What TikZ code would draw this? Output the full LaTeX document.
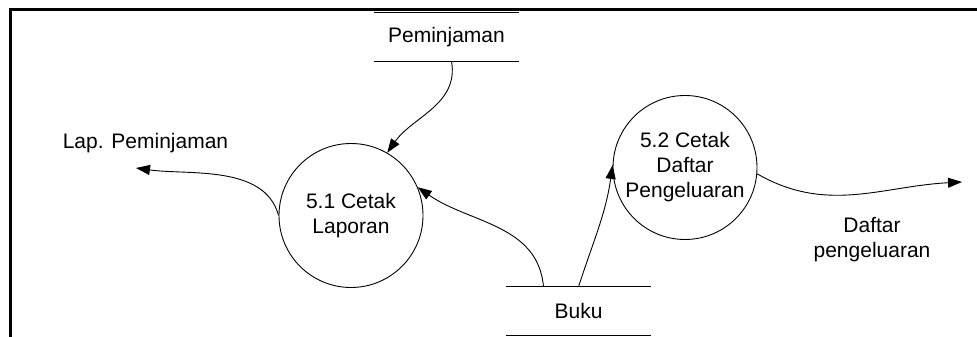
\documentclass[tikz,border=0pt]{standalone}
\usepackage{fontspec}
\setmainfont{Liberation Sans}
\usepackage{tikz}
\usetikzlibrary{arrows.meta}
\tikzstyle{process} = [draw, circle, line width=0.9pt, minimum size=144pt,
    inner sep=0, align=center, font=\fontsize{21}{25}\selectfont]
\tikzstyle{store} = [minimum width=145pt, minimum height=48pt, inner sep=0,
    font=\fontsize{21}{25}\selectfont]
\tikzstyle{label} = [align=center, font=\fontsize{21}{25}\selectfont]
\tikzstyle{flow} = [line width=0.9pt, -{Triangle[length=14pt,width=10pt]}]

\begin{document}
\begin{tikzpicture}[x=1pt, y=1pt]
    \useasboundingbox (0,0) rectangle (977,337);
    \draw[line width=3pt] (10.3,0) -- (10.3,327) -- (977,327);

    \node [store] (pem) at (446.5,300) {Peminjaman};
    \node [store] (buku) at (578.5,26) {Buku};
    \draw[line width=1.2pt] (pem.north west) -- (pem.north east)
        (pem.south west) -- (pem.south east);
    \draw[line width=1.2pt] (buku.north west) -- (buku.north east)
        (buku.south west) -- (buku.south east);

    \node [process] (cetak) at (351,121.5) {5.1 Cetak\\Laporan};
    \node [process] (daftar) at (685,169.5) {5.2 Cetak\\Daftar\\Pengeluaran};

    \node [label] (lap) at (145.5,194) {Lap. Peminjaman};
    \coordinate (laptip) at (136,169);
    \node [label] (pengel) at (872,97) {Daftar\\pengeluaran};
    \coordinate (pengtip) at (962,155);

    \draw[flow] ([xshift=5pt]pem.south) to[out=-80, in=55] (cetak.60);
    \draw[flow] ([xshift=-35pt]buku.north) to[out=95, in=-35] (cetak.23);
    \draw[flow] (buku.north) to[out=72, in=-98] (daftar.178);
    \draw[flow] (cetak.180) to[out=105, in=-8, looseness=0.9] (laptip);
    \draw[flow] (daftar.-5) to[out=-30, in=183] (pengtip);
\end{tikzpicture}
\end{document}
